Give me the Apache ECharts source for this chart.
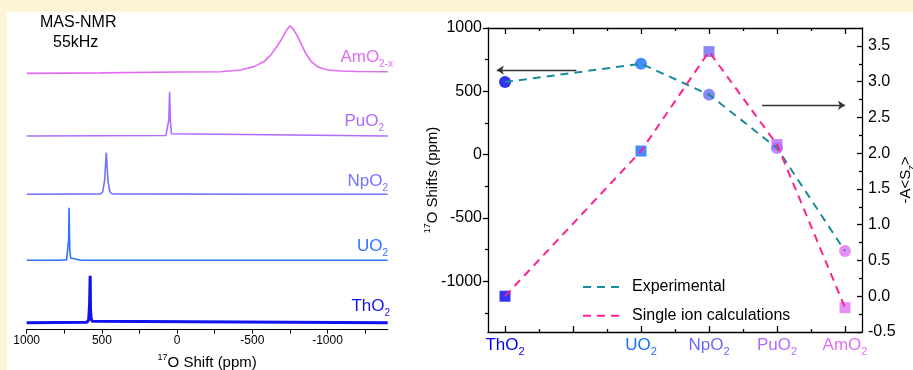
<!DOCTYPE html>
<html>
<head>
<meta charset="utf-8">
<script src="https://cdn.jsdelivr.net/npm/echarts@6/dist/echarts.min.js"></script>
<style>
  html, body { margin: 0; padding: 0; background: #fff; }
  #chart { width: 913px; height: 370px; }
</style>
</head>
<body>
<div id="chart"></div>
<script>
// ---- left panel: 17O MAS-NMR spectra, [shift ppm, normalised intensity] ----
const amSpectrum = [[1000, -0.036], [500, -0.025], [0, -0.008], [-289, 0], [-422, 0.036], [-511, 0.11], [-578, 0.22],
  [-622, 0.36], [-655, 0.51], [-684, 0.65], [-711, 0.8], [-733, 0.93], [-751, 1.0], [-769, 0.94], [-795, 0.8],
  [-822, 0.62], [-855, 0.4], [-889, 0.23], [-933, 0.11], [-1000, 0.036], [-1089, 0.014], [-1200, 0.005], [-1400, 0]]
const puSpectrum = [[1000, 0], [75, 0.01], [62, 0.05], [55, 0.35], [50, 0.96], [45, 0.35], [38, 0.05], [25, 0.01], [-1400, 0]]
const npSpectrum = [[1000, 0], [510, 0.01], [495, 0.05], [482, 0.3], [471, 0.91], [460, 0.3], [447, 0.05], [432, 0.01],
  [-535, 0], [-545, 0.03], [-555, 0], [-1400, 0]]
const uSpectrum = [[1000, 0], [800, 0], [795, 0.015], [790, 0], [735, 0.01], [726, 0.05], [721, 0.45], [718, 1.14],
  [716, 0.6], [713, 0.2], [708, 0.05], [698, 0.01], [640, 0], [635, 0.01], [630, 0], [-287, 0], [-293, 0.03], [-299, 0], [-1400, 0]]
const thSpectrum = [[1000, 0], [600, 0.01], [588, 0.06], [582, 0.4], [578, 1.02], [576, 0.3], [572, 0.1], [565, 0.03], [-1400, 0]]

const spectra = [amSpectrum, puSpectrum, npSpectrum, uSpectrum, thSpectrum]
const spectrumNames = [['AmO', '2-x'], ['PuO', '2'], ['NpO', '2'], ['UO', '2'], ['ThO', '2']]
const spectrumColors = ['#E26BF3', '#B06BFF', '#7373FF', '#2F72FF', '#1212EE']
const nmrLabelTicks = [1000, 500, 0, -500, -1000]
const nmrTicks = [1000, 750, 500, 250, 0, -250, -500, -750, -1000, -1250]

// ---- right panel: shifts vs compound ----
const compounds = ['ThO', 'UO', 'NpO', 'PuO', 'AmO']
const atomicNumber = [90, 92, 93, 94, 95]
const expShift = [573, 718, 474, 52, -761]        // ppm, left axis
const calcAS = [0.0, 2.03, 3.42, 2.12, -0.16]     // -A<Sz>, right axis
const compoundColors = ['#0000F0', '#1470FF', '#6A6AF5', '#B36BFF', '#E070F5']
const arrowLeft = [[91.05, 668], [89.88, 668]]
const arrowRight = [[93.78, 2.67], [95.0, 2.67]]
const xMajorTicks = [90, 91, 92, 93, 94, 95]
const xMinorTicks = [90.5, 91.5, 92.5, 93.5, 94.5]
const shiftLabels = [-1000, -500, 0, 500, 1000]
const shiftMinor = [-1250, -750, -250, 250, 750]
const asLabels = [-0.5, 0, 0.5, 1, 1.5, 2, 2.5, 3, 3.5]
const asMinor = [-0.25, 0.25, 0.75, 1.25, 1.75, 2.25, 2.75, 3.25]

const FONT = '"Liberation Sans", Arial, sans-serif'
const chart = echarts.init(document.getElementById('chart'))

// spectra layout: baseline pixel of each trace, peak height of 1.0 in px
const baselines = [71.7, 136, 194.3, 260.3, 322.7]
const peakPx = 46
const yLow = -0.15

const grids = []
const xAxes = []
const yAxes = []
const series = []

spectra.forEach((d, i) => {
  const last = i === spectra.length - 1
  grids.push({ left: 26.7, width: 361, top: baselines[i] - peakPx, height: peakPx * (1 - yLow), outerBoundsMode: 'none' })
  xAxes.push({
    type: 'value', gridIndex: i, inverse: true, min: -1400, max: 1000, show: last,
    axisLine: { onZero: false, lineStyle: { color: '#000', width: 1.2 } },
    axisTick: { customValues: nmrTicks, length: 4, lineStyle: { color: '#000' } },
    axisLabel: { customValues: nmrLabelTicks, color: '#000', fontSize: 12, fontFamily: FONT, margin: 5,
      formatter: v => String(v) },
    splitLine: { show: false },
    name: last ? '{sup|17}O Shift (ppm)' : '',
    nameLocation: 'middle', nameGap: 23, nameMoveOverlap: false,
    nameTextStyle: { color: '#000', fontSize: 15, fontFamily: FONT, lineHeight: 20,
      rich: { sup: { fontSize: 9, fontFamily: FONT, lineHeight: 10, verticalAlign: 'top' } } }
  })
  yAxes.push({ type: 'value', gridIndex: i, min: yLow, max: 1, show: false, splitLine: { show: false } })
  series.push({
    type: 'line', xAxisIndex: i, yAxisIndex: i, data: d, symbol: 'none', clip: false, silent: true,
    lineStyle: { color: spectrumColors[i], width: last ? 3 : 1.6 }
  })
})

// right panel grid
const G = spectra.length
grids.push({ left: 488, right: 51, top: 28, bottom: 38, outerBoundsMode: 'none' })

const catRich = {}
compoundColors.forEach((c, i) => {
  catRich['c' + i] = { color: c, fontSize: 17, fontFamily: FONT, lineHeight: 24 }
  catRich['s' + i] = { color: c, fontSize: 11, fontFamily: FONT, lineHeight: 12, verticalAlign: 'bottom' }
})

const blackLine = { color: '#000', width: 1.3 }
const xCommon = { type: 'value', gridIndex: G, min: 89.75, max: 95.25, splitLine: { show: false } }
xAxes.push(
  { ...xCommon, position: 'bottom', axisLine: { onZero: false, lineStyle: blackLine },
    axisTick: { customValues: xMajorTicks, inside: true, length: 6, lineStyle: blackLine },
    axisLabel: { customValues: atomicNumber, margin: 1, rich: catRich,
      formatter: v => { const i = atomicNumber.indexOf(v); return i < 0 ? '' : `{c${i}|${compounds[i]}}{s${i}|2}` } } },
  { ...xCommon, position: 'bottom', axisLine: { show: false, onZero: false }, axisLabel: { show: false },
    axisTick: { customValues: xMinorTicks, inside: true, length: 3, lineStyle: blackLine } },
  { ...xCommon, position: 'top', axisLine: { onZero: false, lineStyle: blackLine }, axisLabel: { show: false },
    axisTick: { customValues: xMajorTicks, inside: true, length: 6, lineStyle: blackLine } },
  { ...xCommon, position: 'top', axisLine: { show: false, onZero: false }, axisLabel: { show: false },
    axisTick: { customValues: xMinorTicks, inside: true, length: 3, lineStyle: blackLine } }
)

const tickFont = { color: '#000', fontSize: 16, fontFamily: FONT }
yAxes.push(
  { type: 'value', gridIndex: G, position: 'left', min: -1400, max: 1000, splitLine: { show: false },
    axisLine: { show: true, onZero: false, lineStyle: blackLine },
    axisTick: { customValues: shiftLabels, length: 5, lineStyle: blackLine },
    axisLabel: { customValues: shiftLabels, margin: 6, formatter: v => String(v), ...tickFont },
    name: '{sup|17}O Shifts (ppm)', nameLocation: 'middle', nameGap: 45, nameRotate: 90, nameMoveOverlap: false,
    nameTextStyle: { color: '#000', fontSize: 15, fontFamily: FONT, lineHeight: 20,
      rich: { sup: { fontSize: 9, fontFamily: FONT, lineHeight: 10, verticalAlign: 'top' } } } },
  { type: 'value', gridIndex: G, position: 'left', min: -1400, max: 1000, splitLine: { show: false },
    axisLine: { show: false, onZero: false }, axisLabel: { show: false },
    axisTick: { customValues: shiftMinor, length: 3, lineStyle: blackLine } },
  { type: 'value', gridIndex: G, position: 'right', min: -0.5, max: 3.75, splitLine: { show: false },
    axisLine: { show: true, onZero: false, lineStyle: blackLine },
    axisTick: { customValues: asLabels, inside: true, length: 5, lineStyle: blackLine },
    axisLabel: { customValues: asLabels, margin: 6, formatter: v => v.toFixed(1), ...tickFont },
    name: '-A<S{sub|z}>', nameLocation: 'middle', nameGap: 34, nameRotate: 90, nameMoveOverlap: false,
    nameTextStyle: { color: '#000', fontSize: 15, fontFamily: FONT, lineHeight: 20,
      rich: { sub: { fontSize: 9, fontFamily: FONT, lineHeight: 10, verticalAlign: 'bottom' } } } },
  { type: 'value', gridIndex: G, position: 'right', min: -0.5, max: 3.75, splitLine: { show: false },
    axisLine: { show: false, onZero: false }, axisLabel: { show: false },
    axisTick: { customValues: asMinor, inside: true, length: 3, lineStyle: blackLine } }
)

const xi = G, yLeft = G, yRight = G + 2
const zip = (a, b) => a.map((v, i) => [v, b[i]])
const arrowLine = (pts) => ({
  silent: true, symbol: ['none', 'arrow'], symbolSize: 7,
  label: { show: false }, lineStyle: { color: '#333', width: 1.3, type: 'solid' },
  data: [[{ coord: pts[0] }, { coord: pts[1] }]]
})

series.push(
  { name: 'Experimental', type: 'line', xAxisIndex: xi, yAxisIndex: yLeft, z: 4,
    data: zip(atomicNumber, expShift), symbol: 'none',
    lineStyle: { color: '#1A8A9C', width: 2, type: [8, 6] }, itemStyle: { color: '#1A8A9C' },
    markLine: arrowLine(arrowLeft) },
  { name: 'Single ion calculations', type: 'line', xAxisIndex: xi, yAxisIndex: yRight, z: 4,
    data: zip(atomicNumber, calcAS), symbol: 'none',
    lineStyle: { color: '#FF2090', width: 2, type: [8, 6] }, itemStyle: { color: '#FF2090' },
    markLine: arrowLine(arrowRight) },
  { type: 'scatter', xAxisIndex: xi, yAxisIndex: yRight, symbol: 'rect', symbolSize: 11, z: 2,
    data: calcAS.map((v, i) => ({ value: [atomicNumber[i], v], itemStyle: { color: compoundColors[i] } })) },
  { type: 'scatter', xAxisIndex: xi, yAxisIndex: yLeft, symbol: 'circle', symbolSize: 12, z: 3,
    data: expShift.map((v, i) => ({ value: [atomicNumber[i], v], itemStyle: { color: compoundColors[i] } })) }
)

// spectrum labels
const labelPos = [[393, 57], [384, 121.7], [388, 181], [388, 246.7], [390, 306.7]]
const graphics = [
  { type: 'rect', z: -10, silent: true, shape: { x: 0, y: 0, width: 913, height: 12 }, style: { fill: '#FFF3D6' } },
  { type: 'rect', z: -10, silent: true, shape: { x: 0, y: 0, width: 7, height: 370 }, style: { fill: '#FFF3D6' } },
  { type: 'text', x: 40, y: 23, style: { text: 'MAS-NMR', fill: '#000', fontSize: 16, fontFamily: FONT, verticalAlign: 'middle' } },
  { type: 'text', x: 53, y: 43, style: { text: '55kHz', fill: '#000', fontSize: 16, fontFamily: FONT, verticalAlign: 'middle' } }
]
spectrumNames.forEach((n, i) => {
  graphics.push({
    type: 'text', x: labelPos[i][0], y: labelPos[i][1],
    style: {
      text: `{m|${n[0]}}{s|${n[1]}}`, align: 'right', verticalAlign: 'middle', fill: spectrumColors[i],
      rich: {
        m: { fontSize: 17, fontFamily: FONT, lineHeight: 24, fill: spectrumColors[i] },
        s: { fontSize: 10, fontFamily: FONT, lineHeight: 12, verticalAlign: 'bottom', fill: spectrumColors[i] }
      }
    }
  })
})

chart.setOption({
  backgroundColor: '#fff',
  animation: false,
  grid: grids,
  xAxis: xAxes,
  yAxis: yAxes,
  legend: {
    data: ['Experimental', 'Single ion calculations'],
    orient: 'vertical', left: 582, top: 279, padding: 0,
    itemWidth: 41, itemHeight: 14, itemGap: 12.7,
    itemStyle: { opacity: 0 },
    textStyle: { color: '#000', fontSize: 16, fontFamily: FONT, padding: [0, 0, 0, 3] }
  },
  graphic: graphics,
  series
})
</script>
</body>
</html>
